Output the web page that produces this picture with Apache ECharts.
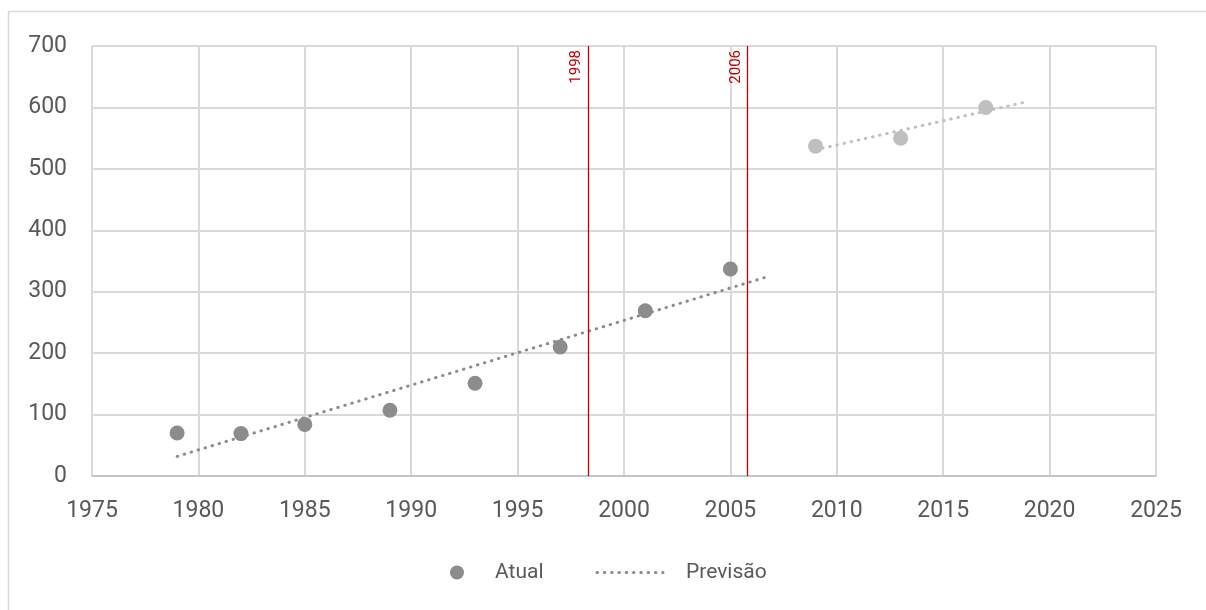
<!DOCTYPE html>
<html>
<head>
<meta charset="utf-8">
<script src="https://cdn.jsdelivr.net/npm/echarts@6/dist/echarts.min.js"></script>
<style>
html,body{margin:0;padding:0;background:#fff;}
#chart{width:1206px;height:610px;}
</style>
</head>
<body>
<div id="chart"></div>
<script>
// Data
const atualEarly = [[1979, 70], [1982, 69], [1985, 84], [1989, 107], [1993, 151], [1997, 210], [2001, 269], [2005, 337]];
const atualLate = [[2009, 537], [2013, 550], [2017, 600]];
const previsaoEarly = [[1979, 32], [2006.7, 324]];
const previsaoLate = [[2009, 531], [2018.9, 609]];
const markers = [[1998.3, '1998'], [2005.8, '2006']];
const xTicks = {min: 1975, max: 2025, interval: 5};
const yTicks = {min: 0, max: 700, interval: 100};

const FONT = 'Roboto';
const darkGray = '#8c8c8c';
const lightGray = '#bfbfbf';
const red = '#c00000';
const dotted = {width: 3, type: [0.5, 6.8], cap: 'round'};

const chart = echarts.init(document.getElementById('chart'));
chart.setOption({
  animation: false,
  backgroundColor: '#fff',
  graphic: [{
    type: 'rect', silent: true,
    shape: {x: 8.5, y: 11.5, width: 1300, height: 700},
    style: {fill: 'none', stroke: '#d9d9d9', lineWidth: 1.5}
  }],
  grid: {left: 92, right: 50, top: 46, bottom: 134},
  xAxis: {
    type: 'value', min: xTicks.min, max: xTicks.max, interval: xTicks.interval,
    axisLine: {show: true, lineStyle: {color: '#bfbfbf', width: 1.5}},
    axisTick: {show: false},
    splitLine: {show: true, lineStyle: {color: '#d9d9d9', width: 2}},
    axisLabel: {color: '#595959', fontFamily: FONT, fontSize: 23, margin: 24,
      formatter: v => String(v), showMinLabel: true, showMaxLabel: true}
  },
  yAxis: {
    type: 'value', min: yTicks.min, max: yTicks.max, interval: yTicks.interval,
    axisLine: {show: false},
    axisTick: {show: false},
    splitLine: {show: true, lineStyle: {color: '#d9d9d9', width: 2}},
    axisLabel: {color: '#595959', fontFamily: FONT, fontSize: 23, margin: 25}
  },
  legend: {
    data: [
      {name: 'Atual', itemStyle: {color: darkGray}},
      {name: 'Previsão', itemStyle: {opacity: 0},
        lineStyle: Object.assign({color: darkGray}, dotted),
        textStyle: {padding: [0, 0, 0, 18]}}
    ],
    left: 445, top: 557,
    itemWidth: 66, itemHeight: 14, itemGap: 52,
    textStyle: {color: '#595959', fontFamily: FONT, fontSize: 21}
  },
  series: [
    {
      name: 'Previsão', type: 'line', data: previsaoEarly, symbol: 'none',
      lineStyle: Object.assign({color: darkGray}, dotted), itemStyle: {color: darkGray}, z: 2
    },
    {
      name: 'Previsão', type: 'line', data: previsaoLate, symbol: 'none',
      lineStyle: Object.assign({color: lightGray}, dotted), itemStyle: {color: lightGray}, z: 2
    },
    {
      name: 'Atual', type: 'scatter', data: atualEarly, symbol: 'circle', symbolSize: 15,
      itemStyle: {color: darkGray, opacity: 1}, z: 3,
      markLine: {
        silent: true, symbol: 'none',
        lineStyle: {color: red, width: 1.3, type: 'solid'},
        label: {show: true, position: 'insideEndTop', color: red, fontFamily: FONT, fontSize: 15,
          formatter: p => p.name, distance: 4},
        data: markers.map(m => ({xAxis: m[0], name: m[1]}))
      }
    },
    {
      name: 'Atual', type: 'scatter', data: atualLate, symbol: 'circle', symbolSize: 15,
      itemStyle: {color: lightGray, opacity: 1}, z: 3
    }
  ]
});
</script>
</body>
</html>
